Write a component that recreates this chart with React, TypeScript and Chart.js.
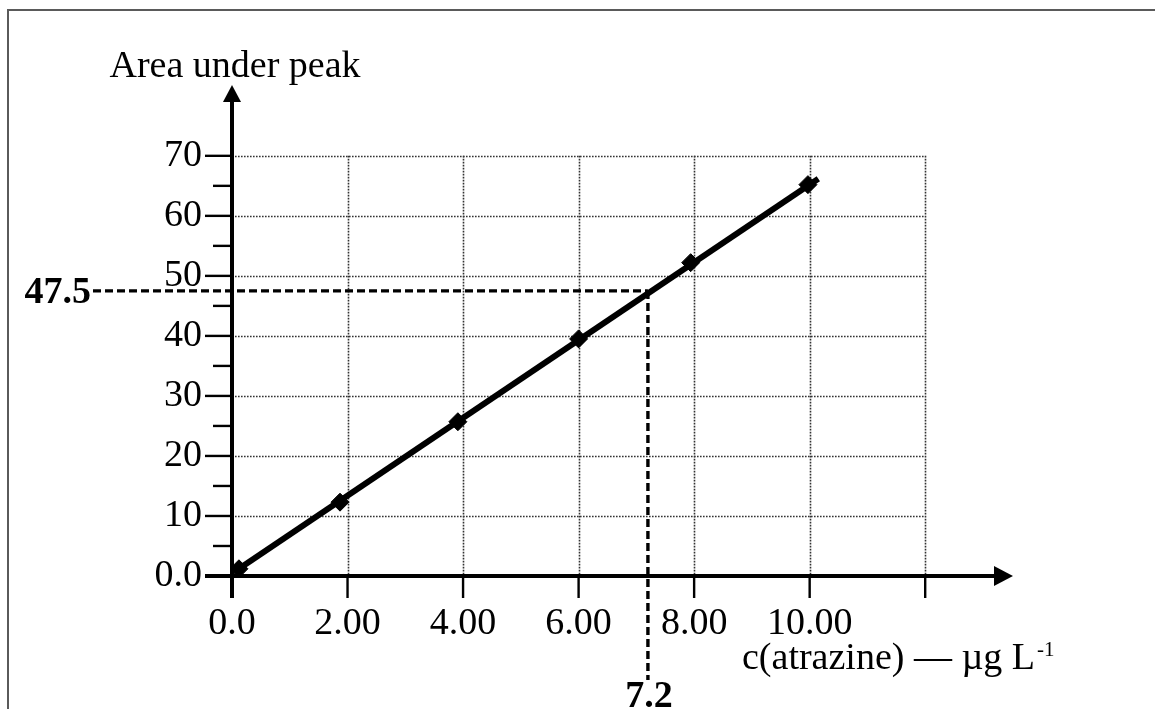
import React, { useEffect, useRef } from "react";
import { Chart, registerables } from "chart.js";
Chart.register(...registerables);

const pointX = [0.12, 1.87, 3.91, 6.0, 7.94, 9.97];
const pointY = [1.2, 12.3, 25.7, 39.5, 52.2, 65.2];
const fitX = [0.12, 10.15];
const fitY = [1.2, 66.2];
const xTickValues = [0, 2, 4, 6, 8, 10, 12];
const xTickLabels = ["0.0", "2.00", "4.00", "6.00", "8.00", "10.00", ""];
const yTickValues = [0, 10, 20, 30, 40, 50, 60, 70];
const yTickLabels = ["0.0", "10", "20", "30", "40", "50", "60", "70"];
const yMinorValues = [5, 15, 25, 35, 45, 55, 65];
const readX = 7.2;
const readY = 47.5;
const readXLabel = "7.2";
const readYLabel = "47.5";
const xTitle = "c(atrazine) — µg L";
const xTitleSup = "-1";
const yTitle = "Area under peak";
const X_MAX = 13.52;
const Y_MAX = 81.8;

const FONT = "'Liberation Serif', 'Times New Roman', serif";

const overlay = {
  id: "overlay",
  beforeDatasetsDraw(chart: any) {
    const ctx = chart.ctx;
    const xs = chart.scales.x;
    const ys = chart.scales.y;
    const x0 = xs.getPixelForValue(0);
    const x12 = xs.getPixelForValue(12);
    const y0 = ys.getPixelForValue(0);
    const y70 = ys.getPixelForValue(70);
    ctx.save();
    // outer frame
    ctx.strokeStyle = "#5a5a5a";
    ctx.lineWidth = 2;
    ctx.strokeRect(8, 10, 1200, 800);
    // dotted grid
    ctx.strokeStyle = "#333";
    ctx.lineWidth = 1.6;
    ctx.setLineDash([1.6, 1.4]);
    xTickValues.forEach((v) => {
      if (v === 0) return;
      const px = Math.round(xs.getPixelForValue(v)) + 0.5;
      ctx.beginPath();
      ctx.moveTo(px, y70);
      ctx.lineTo(px, y0);
      ctx.stroke();
    });
    yTickValues.forEach((v) => {
      if (v === 0) return;
      const py = Math.round(ys.getPixelForValue(v)) + 0.5;
      ctx.beginPath();
      ctx.moveTo(x0, py);
      ctx.lineTo(x12, py);
      ctx.stroke();
    });
    // reading lines
    const rx = xs.getPixelForValue(readX);
    const ry = ys.getPixelForValue(readY);
    ctx.strokeStyle = "#000";
    ctx.lineWidth = 3.4;
    ctx.setLineDash([8, 4]);
    ctx.beginPath();
    ctx.moveTo(93, ry);
    ctx.lineTo(rx, ry);
    ctx.stroke();
    ctx.beginPath();
    ctx.moveTo(rx, ry);
    ctx.lineTo(rx, 680);
    ctx.stroke();
    ctx.restore();
  },
  afterDatasetsDraw(chart: any) {
    const ctx = chart.ctx;
    const xs = chart.scales.x;
    const ys = chart.scales.y;
    const area = chart.chartArea;
    const x0 = xs.getPixelForValue(0);
    const y0 = ys.getPixelForValue(0);
    ctx.save();
    ctx.strokeStyle = "#000";
    ctx.fillStyle = "#000";
    ctx.setLineDash([]);
    // axes
    ctx.lineWidth = 4;
    ctx.beginPath();
    ctx.moveTo(x0, area.top + 10);
    ctx.lineTo(x0, y0 + 22);
    ctx.stroke();
    ctx.beginPath();
    ctx.moveTo(x0 - 27, y0);
    ctx.lineTo(area.right - 10, y0);
    ctx.stroke();
    // arrows
    ctx.beginPath();
    ctx.moveTo(x0, area.top);
    ctx.lineTo(x0 - 9, area.top + 17);
    ctx.lineTo(x0 + 9, area.top + 17);
    ctx.closePath();
    ctx.fill();
    ctx.beginPath();
    ctx.moveTo(area.right, y0);
    ctx.lineTo(area.right - 19, y0 - 10);
    ctx.lineTo(area.right - 19, y0 + 10);
    ctx.closePath();
    ctx.fill();
    // tick marks
    ctx.lineWidth = 2.4;
    xTickValues.forEach((v) => {
      const px = xs.getPixelForValue(v);
      ctx.beginPath();
      ctx.moveTo(px, y0);
      ctx.lineTo(px, y0 + 22);
      ctx.stroke();
    });
    yTickValues.forEach((v) => {
      const py = ys.getPixelForValue(v);
      ctx.beginPath();
      ctx.moveTo(x0 - 27, py);
      ctx.lineTo(x0, py);
      ctx.stroke();
    });
    yMinorValues.forEach((v) => {
      const py = ys.getPixelForValue(v);
      ctx.beginPath();
      ctx.moveTo(x0 - 19, py);
      ctx.lineTo(x0, py);
      ctx.stroke();
    });
    // titles
    ctx.font = `38px ${FONT}`;
    ctx.textAlign = "center";
    ctx.textBaseline = "alphabetic";
    ctx.fillText(yTitle, 235, 77);
    ctx.textAlign = "left";
    ctx.fillText(xTitle, 742, 669);
    const w = ctx.measureText(xTitle).width;
    ctx.font = `21px ${FONT}`;
    ctx.fillText(xTitleSup, 742 + w + 2, 656);
    // reading labels
    const rx = xs.getPixelForValue(readX);
    const ry = ys.getPixelForValue(readY);
    ctx.font = `bold 38px ${FONT}`;
    ctx.textAlign = "right";
    ctx.textBaseline = "middle";
    ctx.fillText(readYLabel, 91, ry + 2);
    ctx.textAlign = "center";
    ctx.textBaseline = "top";
    ctx.fillText(readXLabel, rx + 1, 678);
    ctx.restore();
  },
};

export default function App() {
  const ref = useRef<HTMLCanvasElement | null>(null);
  useEffect(() => {
    if (!ref.current) return;
    const chart = new Chart(ref.current, {
      type: "scatter",
      data: {
        datasets: [
          {
            label: "fit",
            data: fitX.map((x, i) => ({ x, y: fitY[i] })),
            showLine: true,
            borderColor: "#000",
            borderWidth: 6,
            pointRadius: 0,
            fill: false,
          },
          {
            label: "points",
            data: pointX.map((x, i) => ({ x, y: pointY[i] })),
            showLine: false,
            pointStyle: "rectRot",
            pointRadius: 9,
            backgroundColor: "#000",
            borderColor: "#000",
            borderWidth: 1,
          },
        ],
      },
      options: {
        responsive: false,
        animation: false,
        events: [],
        layout: { padding: { top: 85, right: 142, left: 0, bottom: 0 } },
        plugins: { legend: { display: false }, tooltip: { enabled: false } },
        scales: {
          x: {
            type: "linear",
            min: 0,
            max: X_MAX,
            grid: { display: false },
            border: { display: false },
            afterFit: (s: any) => {
              s.height = 133;
            },
            afterBuildTicks: (s: any) => {
              s.ticks = xTickValues.map((v) => ({ value: v }));
            },
            ticks: {
              autoSkip: false,
              maxRotation: 0,
              padding: 17,
              color: "#000",
              font: { family: FONT, size: 38 },
              callback: (_v: any, i: number) => xTickLabels[i],
            },
          },
          y: {
            type: "linear",
            min: 0,
            max: Y_MAX,
            grid: { display: false },
            border: { display: false },
            afterFit: (s: any) => {
              s.width = 232;
            },
            afterBuildTicks: (s: any) => {
              s.ticks = yTickValues.map((v) => ({ value: v }));
            },
            ticks: {
              autoSkip: false,
              padding: 22,
              color: "#000",
              font: { family: FONT, size: 38 },
              callback: (_v: any, i: number) => yTickLabels[i],
            },
          },
        },
      },
      plugins: [overlay],
    });
    return () => chart.destroy();
  }, []);
  return (
    <div style={{ position: "fixed", left: 0, top: 0, width: 1155, height: 709, background: "#fff" }}>
      <canvas ref={ref} width={1155} height={709} style={{ width: 1155, height: 709 }} />
    </div>
  );
}
